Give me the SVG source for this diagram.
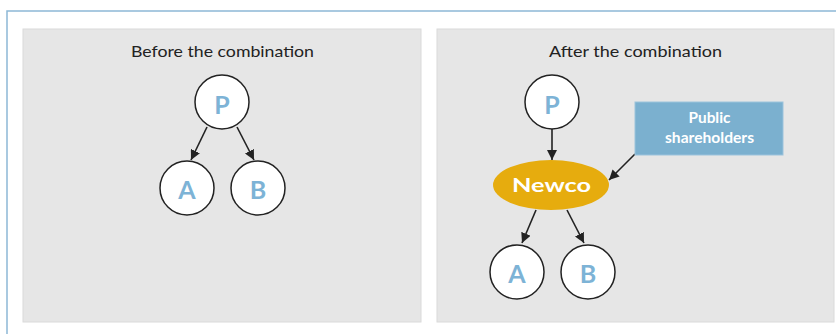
<svg xmlns="http://www.w3.org/2000/svg" width="836" height="334" viewBox="0 0 836 334">
  <defs>
    <marker id="arrow" viewBox="0 0 10 10" refX="10" refY="5" markerWidth="10" markerHeight="10" markerUnits="userSpaceOnUse" orient="auto">
      <path d="M0,0 L10,5 L0,10 z" fill="#222"/>
    </marker>
    <style>
      .frame { fill: none; stroke: #8db8d6; stroke-width: 1.5; }
      .panel { fill: #e6e6e6; stroke: #dadada; stroke-width: 1; }
      .title { font-family: Lato, "Liberation Sans", sans-serif; font-size: 16px; fill: #222; text-anchor: middle; }
      .circle { fill: #fff; stroke: #222; stroke-width: 1.5; }
      .letter { font-family: Lato, "Liberation Sans", sans-serif; font-weight: bold; font-size: 25px; fill: #7db3d6; text-anchor: middle; }
      .edge { stroke: #222; stroke-width: 1.6; fill: none; marker-end: url(#arrow); }
      .newco { fill: #e6ac0e; }
      .newco-text { font-family: Lato, "Liberation Sans", sans-serif; font-weight: bold; font-size: 19.5px; fill: #fff; text-anchor: middle; }
      .public { fill: #7bb0cf; stroke: #9cc3dc; stroke-width: 1; }
      .public-text { font-family: Lato, "Liberation Sans", sans-serif; font-weight: bold; font-size: 14.5px; fill: #fff; text-anchor: middle; }
    </style>
  </defs>

  <!-- outer frame -->
  <path class="frame" d="M7,334 L7,11 L836,11"/>

  <!-- panels -->
  <rect class="panel" x="23" y="29" width="398" height="293"/>
  <rect class="panel" x="437" y="29" width="397" height="293"/>

  <text class="title" x="222.5" y="57" textLength="183" lengthAdjust="spacingAndGlyphs">Before the combination</text>
  <text class="title" x="635.5" y="57" textLength="173" lengthAdjust="spacingAndGlyphs">After the combination</text>

  <!-- connectors -->
  <g id="connectors">
    <line class="edge" x1="207" y1="127" x2="191" y2="160"/>
    <line class="edge" x1="237" y1="127" x2="254" y2="160"/>
    <line class="edge" x1="552" y1="129" x2="552" y2="160"/>
    <line class="edge" x1="635" y1="154" x2="609" y2="180"/>
    <line class="edge" x1="536" y1="210" x2="522" y2="243"/>
    <line class="edge" x1="567" y1="210" x2="584" y2="243"/>
  </g>

  <!-- before -->
  <g id="before-P">
    <circle class="circle" cx="222" cy="102" r="27"/>
    <text class="letter" x="222" y="114">P</text>
  </g>
  <g id="before-A">
    <circle class="circle" cx="187" cy="188" r="27"/>
    <text class="letter" x="187" y="199">A</text>
  </g>
  <g id="before-B">
    <circle class="circle" cx="258" cy="188" r="27"/>
    <text class="letter" x="258" y="199">B</text>
  </g>

  <!-- after -->
  <g id="after-P">
    <circle class="circle" cx="552" cy="102" r="27"/>
    <text class="letter" x="552" y="114">P</text>
  </g>
  <g id="newco">
    <ellipse class="newco" cx="551" cy="185" rx="58" ry="25"/>
    <text class="newco-text" x="551.5" y="192" textLength="79" lengthAdjust="spacingAndGlyphs">Newco</text>
  </g>
  <g id="public-shareholders">
    <rect class="public" x="635" y="102" width="148" height="53"/>
    <text class="public-text" x="709.5" y="123" textLength="42" lengthAdjust="spacingAndGlyphs">Public</text>
    <text class="public-text" x="709.5" y="143" textLength="89" lengthAdjust="spacingAndGlyphs">shareholders</text>
  </g>
  <g id="after-A">
    <circle class="circle" cx="517" cy="272" r="27"/>
    <text class="letter" x="517" y="283">A</text>
  </g>
  <g id="after-B">
    <circle class="circle" cx="588" cy="272" r="27"/>
    <text class="letter" x="588" y="283">B</text>
  </g>
</svg>
